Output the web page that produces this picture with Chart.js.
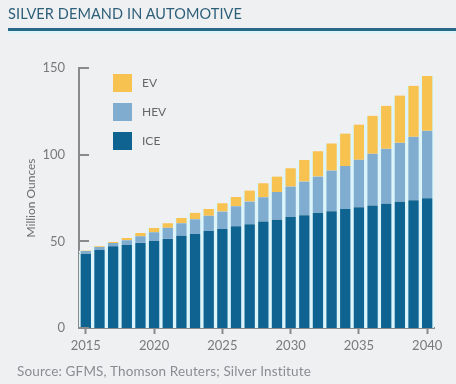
<!DOCTYPE html>
<html>
<head>
<meta charset="utf-8">
<script src="https://cdn.jsdelivr.net/npm/chart.js@4"></script>
<style>
  html, body { margin: 0; padding: 0; background: #eff0f2; }
  #wrap { position: relative; width: 456px; height: 384px; overflow: hidden; font-family: Lato, "Open Sans", sans-serif; }
  #title { position: absolute; left: 8px; top: 5px; font-size: 14.5px; color: #2e5f79; letter-spacing: 0.1px; }
  #rule { position: absolute; left: 8px; top: 28px; width: 448px; height: 3px; background: #2b6786; border-bottom: 2px solid #d9f4fb; }
  #source { position: absolute; left: 17px; top: 363px; font-size: 13.5px; color: #8a8d90; letter-spacing: 0.15px; }
  #legend { position: absolute; left: 113px; top: 74px; }
  .item { height: 29px; display: flex; align-items: flex-start; }
  .sw { width: 19px; height: 18px; margin-right: 10px; }
  .lb { font-size: 12px; color: #666; line-height: 18px; }
  #chart { position: absolute; left: 0; top: 0; }
</style>
</head>
<body>
<div id="wrap">
  <canvas id="chart" width="456" height="384"></canvas>
  <div id="title">SILVER DEMAND IN AUTOMOTIVE</div>
  <div id="rule"></div>
  <div id="legend"></div>
  <div id="source">Source: GFMS, Thomson Reuters; Silver Institute</div>
</div>
<script>
const years = [2015, 2016, 2017, 2018, 2019, 2020, 2021, 2022, 2023, 2024, 2025, 2026, 2027,
  2028, 2029, 2030, 2031, 2032, 2033, 2034, 2035, 2036, 2037, 2038, 2039, 2040];
const ice = [43, 45.2, 47.1, 48.1, 49.2, 50.4, 51.5, 53.3, 54.2, 55.9, 57.1, 58.7, 59.9,
  61.5, 62.6, 64, 65.1, 66.3, 67.4, 68.6, 69.7, 70.7, 71.8, 73, 73.7, 74.9];
const hev = [1.4, 1.5, 1.9, 2.5, 3.7, 4.8, 6.4, 7.2, 8.6, 8.9, 10.1, 11.5, 13.1,
  14, 15.8, 17.6, 19.4, 21.1, 23.4, 24.9, 27.4, 29.9, 31.6, 33.9, 36.6, 38.9];
const ev = [0.3, 0.4, 0.6, 1.3, 1.9, 2.5, 2.6, 2.9, 3.7, 3.8, 4.8, 5.4, 6.3,
  8, 9, 10.5, 12.4, 14.5, 15.7, 18.7, 20.3, 21.8, 24.8, 27.2, 29.4, 31.6];
const yTicks = [0, 50, 100, 150];

const gapColor = "#dcf5fb";
function serie(label, data, color) {
  return {
    label: label,
    data: data,
    backgroundColor: color,
    borderColor: gapColor,
    borderWidth: { left: 2, right: 2, top: 0, bottom: 0 },
    borderSkipped: false,
    barPercentage: 1,
    categoryPercentage: 1,
  };
}

// marcas do eixo y desenhadas para dentro
const innerTicks = {
  id: "innerTicks",
  afterDraw(chart) {
    const ctx = chart.ctx;
    const y = chart.scales.y;
    ctx.save();
    ctx.strokeStyle = "#8a8a8a";
    ctx.lineWidth = 2;
    yTicks.forEach(v => {
      const py = Math.round(y.getPixelForValue(v));
      ctx.beginPath();
      ctx.moveTo(y.right, py);
      ctx.lineTo(y.right + 10, py);
      ctx.stroke();
    });
    ctx.restore();
  },
};

const datasets = [serie("ICE", ice, "#0f6391"), serie("HEV", hev, "#80acd0"), serie("EV", ev, "#f8c250")];

new Chart(document.getElementById("chart"), {
  type: "bar",
  data: { labels: years, datasets: datasets },
  plugins: [innerTicks],
  options: {
    responsive: false,
    animation: false,
    layout: { padding: { left: 24, right: 22, top: 68, bottom: 0 } },
    plugins: { legend: { display: false }, tooltip: { enabled: false } },
    scales: {
      x: {
        stacked: true,
        afterFit(s) { s.height = 384 - 328; },
        border: { display: true, color: "#8a8a8a", width: 2 },
        grid: {
          offset: false,
          drawOnChartArea: false,
          tickLength: 6,
          tickWidth: 2,
          tickColor: ctx => (years[ctx.index] % 5 === 0 ? "#8a8a8a" : "rgba(0,0,0,0)"),
        },
        ticks: {
          autoSkip: false,
          maxRotation: 0,
          padding: 4,
          color: "#7a7a7a",
          font: { family: "Lato", size: 13 },
          callback: (v, i) => (years[i] % 5 === 0 ? String(years[i]) : ""),
        },
      },
      y: {
        stacked: true,
        min: 0,
        max: 150,
        afterFit(s) { s.width = 55; },
        border: { display: true, color: "#8a8a8a", width: 2 },
        grid: { display: false },
        ticks: {
          stepSize: 50,
          padding: 6,
          color: "#7a7a7a",
          font: { family: "Lato", size: 13 },
        },
        title: {
          display: true,
          text: "Million Ounces",
          color: "#6f6f6f",
          font: { family: "Lato", size: 12 },
          padding: { top: 0, bottom: 0 },
        },
      },
    },
  },
});

// legenda em HTML, do topo para baixo: EV, HEV, ICE
const legend = document.getElementById("legend");
datasets.slice().reverse().forEach(d => {
  const it = document.createElement("div");
  it.className = "item";
  it.innerHTML = '<div class="sw" style="background:' + d.backgroundColor + '"></div><div class="lb">' + d.label + "</div>";
  legend.appendChild(it);
});
</script>
</body>
</html>
